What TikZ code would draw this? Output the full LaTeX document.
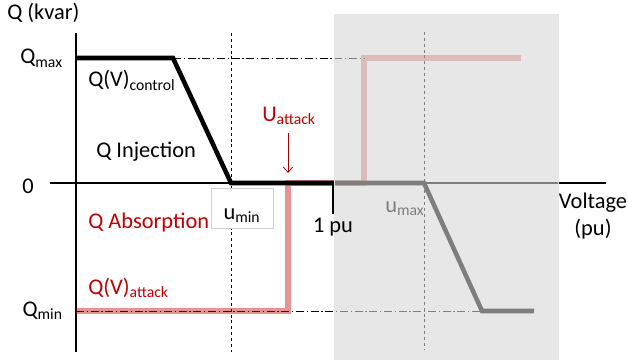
\documentclass[tikz,border=0pt]{standalone}
\usepackage{fontspec}
\setmainfont{Carlito}
\usetikzlibrary{arrows.meta}
\definecolor{attackred}{HTML}{C00000}
\definecolor{boxedge}{HTML}{D0D0D0}
\definecolor{maskgray}{HTML}{D7D7D7}

\begin{document}
\begin{tikzpicture}[x=0.75pt,y=-0.75pt,>={Straight Barb[length=4pt,width=7pt]},
  every node/.style={font=\fontsize{16.8}{20}\selectfont, inner sep=0pt},
  axis/.style={line width=0.8pt},
  guide/.style={line width=0.6pt, dash pattern=on 2.2pt off 2.2pt},
  level/.style={line width=0.6pt, dash pattern=on 6pt off 2pt on 1pt off 2pt},
  control/.style={line width=3.4pt},
  attack/.style={line width=3.8pt, attackred, opacity=0.42},
  redtext/.style={text=attackred}]
\useasboundingbox (0,0) rectangle (628,360);

% guide lines at the limits
\draw[level] (173,58) -- (365,58);
\draw[level] (76,311) -- (482,311);
\draw[guide] (231,33) -- (231,352);
\draw[guide] (424,32) -- (424,350);

% axes
\draw[axis] (76,33) -- (76,352);
\draw[axis] (50,183) -- (606,183);
\draw[axis] (333,183) -- (333,214);

% attacked curve, then the droop curve on top
\draw[attack] (76,311) -- (288,311) -- (288,183) -- (364,183) -- (364,58) -- (521,58);
\draw[control] (76,58) -- (173,58) -- (231,183) -- (424,183) -- (482,311) -- (534,311);

\node[anchor=base west] (umax) at (385,212) {u\textsubscript{max}};

% shaded region above 1 pu
\fill[maskgray, opacity=0.59] (334,14) rectangle (558,360);
\draw[black!10, line width=0.6pt] (334,360) -- (334,14) -- (558,14) -- (558,360);

% labels
\node[anchor=base west] (ylabel) at (7,20) {Q (kvar)};
\node[anchor=base east] (qmax) at (63,64) {Q\textsubscript{max}};
\node[anchor=base west] (zero) at (22,193) {0};
\node[anchor=base east] (qmin) at (63,316) {Q\textsubscript{min}};
\node[anchor=base west] (qvctrl) at (88,87) {Q(V)\textsubscript{control}};
\node[anchor=base west] (inject) at (96,157) {Q Injection};
\node[anchor=base west, redtext] (absorb) at (88,228) {Q Absorption};
\node[anchor=base west, redtext] (qvatk) at (88,294) {Q(V)\textsubscript{attack}};
\node[anchor=base west, redtext] (uatk) at (262,121) {U\textsubscript{attack}};
\node[draw=boxedge, fill=white, line width=0.6pt, minimum width=46.5pt, minimum height=30pt,
  text height=16.5pt, text depth=0pt] (umin) at (242,208) {u\textsubscript{min}};
\node[anchor=base] (onepu) at (333,232) {1 pu};
\node[anchor=north, align=center] (xlabel) at (593,193) {Voltage\\(pu)};

% attack arrow
\coordinate (hit) at (288,173);
\draw[->, attackred!85!black, line width=0.6pt, shorten <=6pt] (uatk.south -| hit) -- (hit);
\end{tikzpicture}
\end{document}
